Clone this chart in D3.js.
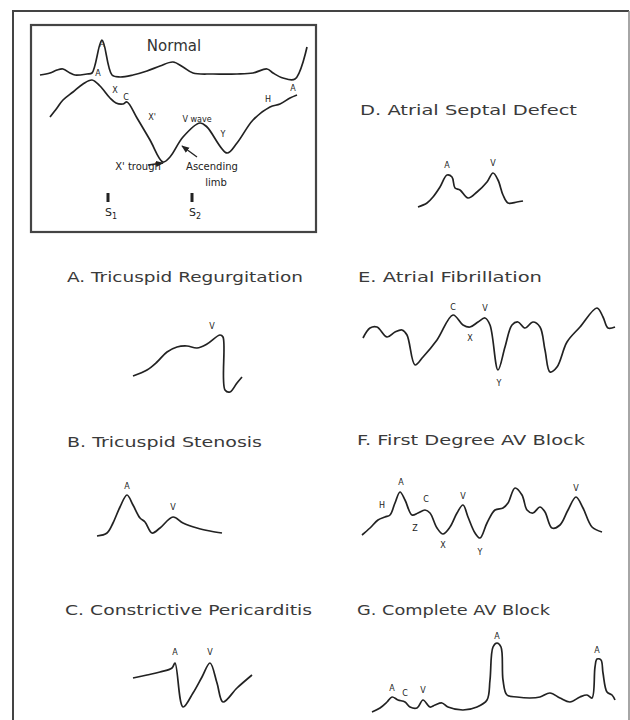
<!DOCTYPE html>
<html>
<head>
<meta charset="utf-8">
<script src="https://cdn.jsdelivr.net/npm/d3@7"></script>
<style>
  body { margin: 0; background: #fff; }
  text { font-family: "DejaVu Sans", sans-serif; fill: #333; }
</style>
</head>
<body>
<div id="chart"></div>
<script>
// waveform data: [time, amplitude] in each panel's own units
var normalTop = [[10,155],[20,157],[27,160],[33,161],[40,157],[45,155],[57,156],[62,157],[72,190],[82,155],[90,153],[103,155],[117,159],[130,164],[143,168],[153,163],[163,157],[183,156],[207,156],[223,157],[237,161],[243,157],[253,152],[265,151],[277,183]];
var normalJvp = [[20,113],[27,122],[33,130],[43,138],[53,146],[62,150],[70,144],[80,132],[86,127],[93,126],[97,128],[107,112],[120,90],[133,68],[140,73],[153,93],[170,107],[177,103],[197,77],[207,87],[223,110],[240,123],[250,126],[260,132],[267,135]];
var asdWave = [[8,3],[17,7],[23,13],[30,23],[37,35],[42,33],[45,22],[50,20],[58,12],[67,18],[77,28],[83,37],[88,30],[93,15],[98,7],[107,8],[113,9]];
var trWave = [[3,19],[17,25],[27,33],[37,43],[47,48],[57,49],[67,47],[77,51],[90,60],[93,58],[95,5],[100,3],[107,12],[112,18]];
var afWave = [[3,47],[10,57],[17,58],[27,48],[35,53],[42,55],[47,50],[55,20],[63,28],[77,45],[93,70],[103,60],[110,58],[118,63],[125,67],[130,60],[138,15],[145,38],[152,60],[158,63],[165,57],[173,63],[180,58],[185,35],[190,13],[197,18],[207,43],[220,58],[237,77],[243,68],[248,57],[255,58]];
var tsWave = [[2,4],[12,7],[18,17],[25,33],[32,45],[38,35],[45,22],[50,18],[57,7],[65,12],[78,23],[88,17],[102,12],[115,9],[127,7]];
var avb1Wave = [[2,20],[10,27],[18,35],[25,38],[30,40],[35,52],[40,63],[45,55],[52,40],[58,42],[65,45],[70,42],[77,27],[83,21],[90,28],[97,42],[103,50],[108,38],[115,22],[120,17],[127,32],[135,45],[143,47],[148,52],[155,67],[162,60],[167,45],[173,42],[180,48],[185,43],[192,27],[200,30],[208,45],[216,58],[223,47],[232,28],[242,23]];
var cpWave = [[3,32],[17,35],[30,38],[42,42],[45,47],[53,3],[63,17],[72,33],[80,47],[87,27],[93,8],[107,22],[122,35]];
var cavbWave = [[2,3],[10,7],[17,13],[22,18],[28,15],[35,13],[40,8],[47,7],[53,15],[60,8],[65,10],[72,12],[78,8],[93,5],[107,8],[117,15],[120,35],[123,68],[127,72],[131,68],[133,35],[137,20],[147,18],[160,17],[170,18],[180,22],[190,17],[200,13],[210,18],[217,20],[222,17],[225,48],[227,56],[231,55],[233,42],[237,23],[242,20],[245,15]];

// wave labels: [text, time, amplitude]
var normalLabels = [["A",72,186],["A",68,157],["X",85,140],["C",96,133],["X'",122,113],["V wave",167,111],["Y",193,96],["H",238,131],["A",263,142]];
var normalNotes = [["X' trough",108,64],["Ascending",182,64],["limb",186,48]];
var asdLabels = [["A",37,45],["V",83,47]];
var trLabels = [["V",82,69]];
var afLabels = [["C",93,78],["X",110,47],["V",125,77],["Y",139,2]];
var tsLabels = [["A",32,54],["V",78,33]];
var avb1Labels = [["H",22,50],["A",41,73],["Z",55,27],["C",66,56],["V",103,59],["X",83,10],["Y",120,3],["V",216,67]];
var cpLabels = [["A",45,58],["V",80,58]];
var cavbLabels = [["A",22,27],["C",35,22],["V",53,25],["A",127,79],["A",227,65]];

var soundMarks = [["1",78],["2",162]];

var titles = ["D.  Atrial  Septal  Defect", "A.  Tricuspid  Regurgitation", "E.  Atrial  Fibrillation",
  "B.  Tricuspid  Stenosis", "C.  Constrictive  Pericarditis", "F.   First  Degree  AV  Block", "G.  Complete  AV  Block"];

var svg = d3.select("#chart").append("svg")
  .attr("width", 630)
  .attr("height", 720);

svg.append("defs").append("marker")
  .attr("id", "arrow")
  .attr("viewBox", "0 0 10 10")
  .attr("refX", 9).attr("refY", 5)
  .attr("markerWidth", 6).attr("markerHeight", 6)
  .attr("orient", "auto")
  .append("path").attr("d", "M0,1 L10,5 L0,9 z").attr("fill", "#222");

// outer frame (no bottom edge, it runs off the page)
svg.append("path")
  .attr("d", "M13,720 L13,11 L629,11")
  .attr("fill", "none").attr("stroke", "#444").attr("stroke-width", 2);
svg.append("line")
  .attr("x1", 629).attr("y1", 11).attr("x2", 629).attr("y2", 720)
  .attr("stroke", "#888").attr("stroke-width", 1.5);

// panel placement
var panels = [
  {key: "normal", x0: 30, y0: 230, waves: [normalTop, normalJvp], labels: normalLabels},
  {key: "asd", x0: 410, y0: 210, waves: [asdWave], labels: asdLabels, title: 0, tx: 360, ty: 115, tw: 217},
  {key: "tr", x0: 130, y0: 395, waves: [trWave], labels: trLabels, title: 1, tx: 67, ty: 282, tw: 236},
  {key: "af", x0: 360, y0: 385, waves: [afWave], labels: afLabels, title: 2, tx: 358, ty: 282, tw: 184},
  {key: "ts", x0: 95, y0: 540, waves: [tsWave], labels: tsLabels, title: 3, tx: 67, ty: 447, tw: 195},
  {key: "cp", x0: 130, y0: 710, waves: [cpWave], labels: cpLabels, title: 4, tx: 65, ty: 615, tw: 247},
  {key: "avb1", x0: 360, y0: 555, waves: [avb1Wave], labels: avb1Labels, title: 5, tx: 357, ty: 445, tw: 228},
  {key: "cavb", x0: 370, y0: 715, waves: [cavbWave], labels: cavbLabels, title: 6, tx: 357, ty: 615, tw: 193}
];

panels.forEach(function(p) {
  var xs = d3.scaleLinear().domain([0, 100]).range([p.x0, p.x0 + 100]);
  var ys = d3.scaleLinear().domain([0, 100]).range([p.y0, p.y0 - 100]);
  p.xs = xs; p.ys = ys;

  var line = d3.line()
    .x(d => xs(d[0]))
    .y(d => ys(d[1]))
    .curve(d3.curveCatmullRom.alpha(0.5));

  var g = svg.append("g").attr("class", "panel-" + p.key);

  g.selectAll("path.wave")
    .data(p.waves)
    .enter()
    .append("path")
    .attr("class", "wave")
    .attr("d", line)
    .attr("fill", "none")
    .attr("stroke", "#222")
    .attr("stroke-width", 1.7)
    .attr("stroke-linejoin", "round");

  g.selectAll("text.lbl")
    .data(p.labels)
    .enter()
    .append("text")
    .attr("class", "lbl")
    .attr("x", d => xs(d[1]))
    .attr("y", d => ys(d[2]))
    .attr("dy", "0.35em")
    .attr("text-anchor", "middle")
    .style("font-size", "8px")
    .style("fill", "#222")
    .text(d => d[0]);

  if (p.title !== undefined) {
    svg.append("text")
      .attr("x", p.tx)
      .attr("y", p.ty)
      .attr("textLength", p.tw)
      .attr("lengthAdjust", "spacingAndGlyphs")
      .style("font-size", "13.5px")
      .style("fill", "#3a3a3a")
      .text(titles[p.title]);
  }
});

// Normal panel extras
var np = panels[0];
svg.append("rect")
  .attr("x", 31).attr("y", 25)
  .attr("width", 285).attr("height", 207)
  .attr("fill", "none").attr("stroke", "#444").attr("stroke-width", 2.2);

svg.append("text")
  .attr("x", np.xs(144)).attr("y", np.ys(184))
  .attr("dy", "0.35em")
  .attr("text-anchor", "middle")
  .style("font-size", "15px")
  .text("Normal");

svg.selectAll("text.note")
  .data(normalNotes)
  .enter()
  .append("text")
  .attr("class", "note")
  .attr("x", d => np.xs(d[1]))
  .attr("y", d => np.ys(d[2]))
  .attr("dy", "0.35em")
  .attr("text-anchor", "middle")
  .style("font-size", "10px")
  .style("fill", "#222")
  .text(d => d[0]);

// arrows to the trough and ascending limb
var arrows = [[[118, 65], [133, 67]], [[167, 73], [152, 84]]];
svg.selectAll("line.arrow")
  .data(arrows)
  .enter()
  .append("line")
  .attr("class", "arrow")
  .attr("x1", d => np.xs(d[0][0])).attr("y1", d => np.ys(d[0][1]))
  .attr("x2", d => np.xs(d[1][0])).attr("y2", d => np.ys(d[1][1]))
  .attr("stroke", "#222").attr("stroke-width", 1.3)
  .attr("marker-end", "url(#arrow)");

// S1 / S2 heart sound marks
var sm = svg.selectAll("g.sound")
  .data(soundMarks)
  .enter()
  .append("g")
  .attr("class", "sound");
sm.append("rect")
  .attr("x", d => np.xs(d[1]) - 1.5)
  .attr("y", np.ys(37))
  .attr("width", 3)
  .attr("height", 9)
  .attr("fill", "#222");
var st = sm.append("text")
  .attr("x", d => np.xs(d[1]) - 3)
  .attr("y", np.ys(14))
  .style("font-size", "11px")
  .style("fill", "#222");
st.append("tspan").text("S");
st.append("tspan").attr("dy", 3).style("font-size", "8px").text(d => d[0]);
</script>
</body>
</html>
